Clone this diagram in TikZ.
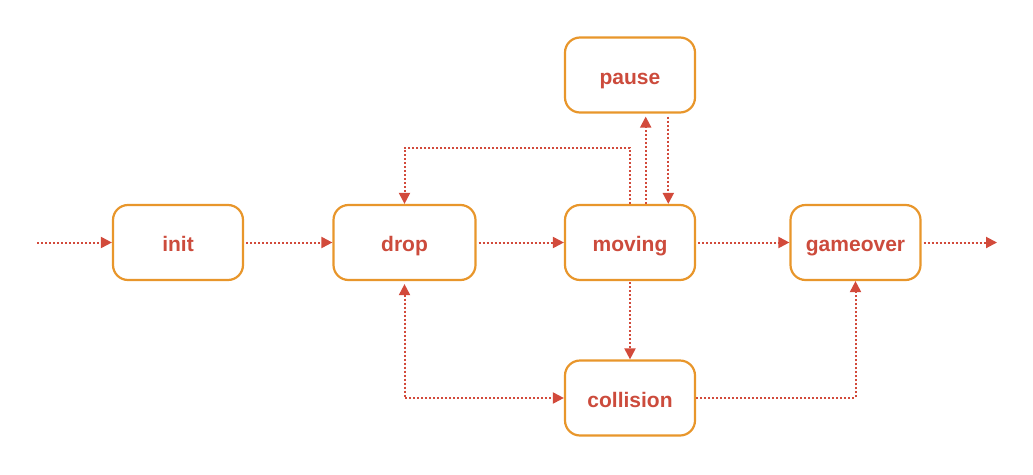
\documentclass[tikz,border=0pt]{standalone}
\usepackage{fontspec}
\setmainfont{Liberation Sans}
\usetikzlibrary{arrows.meta}
\definecolor{boxorange}{HTML}{E8962B}
\definecolor{txtred}{HTML}{CC4B3C}
\definecolor{arrred}{HTML}{D24A3B}
\begin{document}
\begin{tikzpicture}[x=1pt,y=-1pt,
  box/.style={draw=boxorange, line width=2.2pt, rounded corners=15pt, fill=white,
    minimum width=130pt, minimum height=75pt, inner sep=0pt,
    text height=20pt, text depth=2pt,
    text=txtred, font=\bfseries\fontsize{21}{24}\selectfont},
  conn/.style={draw=arrred, line width=2pt, dash pattern=on 2pt off 2pt,
    -{Triangle[length=11pt,width=11pt]}},
  both/.style={conn, {Triangle[length=11pt,width=11pt]}-{Triangle[length=11pt,width=11pt]}}
]
\useasboundingbox (0,0) rectangle (1033,474);
\node[box] (init) at (178,242.5) {init};
\node[box, minimum width=142pt] (drop) at (404.5,242.5) {drop};
\node[box] (moving) at (630,242.5) {moving};
\node[box] (gameover) at (855.5,242.5) {gameover};
\node[box] (pause) at (630,75) {pause};
\node[box] (collision) at (630,398) {collision};
\coordinate (start) at (37,242.5);
\coordinate (finish) at (997,242.5);
\draw[conn] (start) -- (init.west);
\draw[conn, shorten <=2pt] (init.east) -- (drop.west);
\draw[conn, shorten <=2pt] (drop.east) -- (moving.west);
\draw[conn, shorten <=2pt] (moving.east) -- (gameover.west);
\draw[conn, shorten <=2pt] (gameover.east) -- (finish);
\draw[conn, shorten >=3pt] ([xshift=15.7pt]moving.north) -- ([xshift=15.7pt]pause.south);
\draw[conn, shorten <=3pt] ([xshift=38.3pt]pause.south) -- ([xshift=38.3pt]moving.north);
\draw[conn] (moving.north) -- ++(0,-56) -| (drop.north);
\draw[conn, shorten <=1pt] (moving.south) -- (collision.north);
\draw[both, shorten <=3pt] (drop.south) |- (collision.west);
\draw[conn] (collision.east) -| (gameover.south);
\end{tikzpicture}
\end{document}
